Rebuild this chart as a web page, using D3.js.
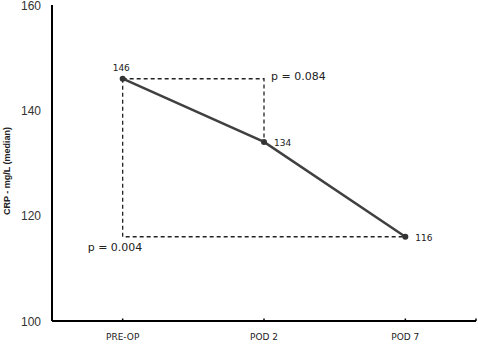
<!DOCTYPE html>
<html><head><meta charset="utf-8">
<script src="https://cdn.jsdelivr.net/npm/d3@7"></script>
<style>body{margin:0;background:#fff}</style>
</head><body>
<svg id="c" width="478" height="344"></svg>
<script>
const categories = ["PRE-OP", "POD 2", "POD 7"];
const values = [146, 134, 116];
const yTicks = [100, 120, 140, 160];
const pLabels = ["p = 0.084", "p = 0.004"];
const yTitle = "CRP - mg/L (median)";

const svg = d3.select("#c");
const xs = d3.scalePoint().domain(categories).range([52, 476]).padding(0.5);
const xp = c => xs(c);
const y = d3.scaleLinear().domain([100, 160]).range([321, 5]);

// y axis line
svg.append("line").attr("x1",52).attr("x2",52).attr("y1",y(160)).attr("y2",y(100)).attr("stroke","#000").attr("stroke-width",2);
// x axis line
svg.append("line").attr("x1",52).attr("x2",476).attr("y1",y(100)).attr("y2",y(100)).attr("stroke","#000").attr("stroke-width",2);

// y tick labels
svg.selectAll(".yt").data(yTicks).enter().append("text")
  .attr("x",41).attr("y",d=>y(d)+4.5).attr("text-anchor","end")
  .attr("font-family","Liberation Sans, Arial, sans-serif").attr("font-size",12).attr("fill","#333")
  .text(d=>d);

// x ticks (small marks)
const tickPos = categories.map(xp).concat([476]);
svg.selectAll(".xt").data(tickPos).enter().append("line")
  .attr("x1",d=>d).attr("x2",d=>d).attr("y1",y(100)-2.5).attr("y2",y(100)).attr("stroke","#000").attr("stroke-width",1.5);

svg.selectAll(".xl").data(categories).enter().append("text")
  .attr("x",d=>xp(d)).attr("y",340).attr("text-anchor","middle")
  .attr("font-family","DejaVu Sans, sans-serif").attr("font-size",9).attr("fill","#222")
  .text(d=>d);

// y title
svg.append("text").attr("transform","translate(10,171) rotate(-90)")
  .attr("text-anchor","middle").attr("font-family","Liberation Sans, Arial, sans-serif")
  .attr("font-size",9).attr("font-weight","bold").attr("fill","#222").text(yTitle);

// dashed brackets
const dash = {stroke:"#222","stroke-width":1.3,"stroke-dasharray":"4,3",fill:"none"};
function dpath(pts){
  const p = svg.append("path").attr("d", d3.line()(pts));
  Object.entries(dash).forEach(([k,v])=>p.attr(k,v));
}
dpath([[xp(categories[0]), y(values[0])],[xp(categories[1]), y(values[0])],[xp(categories[1]), y(values[1])]]);
dpath([[xp(categories[0]), y(values[0])],[xp(categories[0]), y(values[2])],[xp(categories[2]), y(values[2])]]);

// main line
svg.append("path").datum(values)
  .attr("d", d3.line().x((d,i)=>xp(categories[i])).y(d=>y(d)))
  .attr("fill","none").attr("stroke","#404040").attr("stroke-width",2.5);

svg.selectAll(".pt").data(values).enter().append("circle")
  .attr("cx",(d,i)=>xp(categories[i])).attr("cy",d=>y(d)).attr("r",3).attr("fill","#333");

// value labels
const lblOff = [[-10,-8],[10,4],[10,4]];
svg.selectAll(".vl").data(values).enter().append("text")
  .attr("x",(d,i)=>xp(categories[i])+lblOff[i][0]).attr("y",(d,i)=>y(d)+lblOff[i][1])
  .attr("font-family","DejaVu Sans, sans-serif").attr("font-size",9).attr("fill","#222")
  .text(d=>d);

// p labels
svg.append("text").attr("x",xp(categories[1])+7).attr("y",y(values[0])+1)
  .attr("font-family","DejaVu Sans, sans-serif").attr("font-size",11).attr("fill","#222").text(pLabels[0]);
svg.append("text").attr("x",xp(categories[0])-35).attr("y",y(values[2])+14)
  .attr("font-family","DejaVu Sans, sans-serif").attr("font-size",11).attr("fill","#222").text(pLabels[1]);
</script>
</body></html>
